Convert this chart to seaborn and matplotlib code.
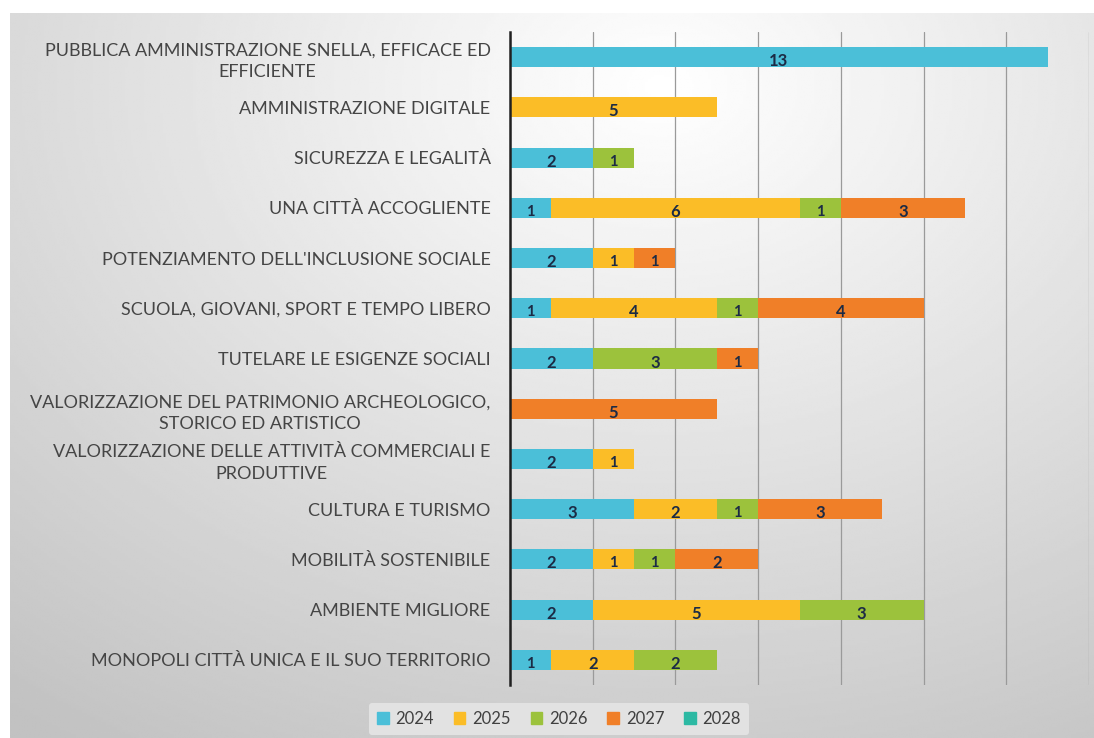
import numpy as np
import pandas as pd
import matplotlib
matplotlib.use("Agg")
import matplotlib.pyplot as plt
import matplotlib.patches as mpatches
import seaborn as sns

categories = [
    "PUBBLICA AMMINISTRAZIONE SNELLA, EFFICACE ED\nEFFICIENTE",
    "AMMINISTRAZIONE DIGITALE",
    "SICUREZZA E LEGALITÀ",
    "UNA CITTÀ ACCOGLIENTE",
    "POTENZIAMENTO DELL'INCLUSIONE SOCIALE",
    "SCUOLA, GIOVANI, SPORT E TEMPO LIBERO",
    "TUTELARE LE ESIGENZE SOCIALI",
    "VALORIZZAZIONE DEL PATRIMONIO ARCHEOLOGICO,\nSTORICO ED ARTISTICO",
    "VALORIZZAZIONE DELLE ATTIVITÀ COMMERCIALI E\nPRODUTTIVE",
    "CULTURA E TURISMO",
    "MOBILITÀ SOSTENIBILE",
    "AMBIENTE MIGLIORE",
    "MONOPOLI CITTÀ UNICA E IL SUO TERRITORIO",
]
years = ["2024", "2025", "2026", "2027", "2028"]
v2024 = [13, 0, 2, 1, 2, 1, 2, 0, 2, 3, 2, 2, 1]
v2025 = [0, 5, 0, 6, 1, 4, 0, 0, 1, 2, 1, 5, 2]
v2026 = [0, 0, 1, 1, 0, 1, 3, 0, 0, 1, 1, 3, 2]
v2027 = [0, 0, 0, 3, 1, 4, 1, 5, 0, 3, 2, 0, 0]
v2028 = [0, 0, 0, 0, 0, 0, 0, 0, 0, 0, 0, 0, 0]
colors = ["#4bbfd8", "#fbbd27", "#9cc23c", "#f07f28", "#2cb9a3"]

df = pd.DataFrame({"cat": categories, "2024": v2024, "2025": v2025,
                   "2026": v2026, "2027": v2027, "2028": v2028})
cum = df[years].cumsum(axis=1)

sns.set_theme(style="white")
plt.rcParams["font.family"] = ["Lato", "DejaVu Sans"]

fig = plt.figure(figsize=(10.94, 7.38), dpi=100)

# background gradient panel
bg = fig.add_axes([10 / 1094, 0, 1 - 10 / 1094, 1 - 13 / 738], zorder=-10)
yy, xx = np.mgrid[0:1:300j, 0:1:400j]
r = np.sqrt(((xx - 0.6) / 0.9) ** 2 + ((yy - 0.1) / 1.0) ** 2)
shade = np.clip(1.0 - 0.22 * r, 0.76, 1.0)
bg.imshow(shade, cmap="gray", vmin=0, vmax=1, aspect="auto",
          extent=[0, 1, 1, 0], interpolation="bilinear")
bg.set_axis_off()

ax = fig.add_axes([510 / 1094, 1 - 685 / 738, (1089 - 510) / 1094, (685 - 32) / 738])
ax.patch.set_alpha(0)

# stacked bars: draw cumulative totals from the last year back to the first
for i in range(len(years) - 1, -1, -1):
    sns.barplot(data=cum, x=years[i], y=df["cat"], order=categories,
                color=colors[i], width=0.4, orient="h", ax=ax,
                linewidth=0, saturation=1)

for i, yr in enumerate(years):
    for j, cat in enumerate(categories):
        val = df.loc[j, yr]
        if val > 0:
            mid = cum.loc[j, yr] - val / 2
            ax.text(mid, j + 0.08, str(val), ha="center", va="center",
                    fontsize=12 if val > 1 else 10.5, color="#1c2b45",
                    fontweight="bold")

ax.set_xlim(0, 14)
ax.set_ylim(12.5, -0.5)
ax.set_xticks(np.arange(0, 15, 2))
ax.set_xticklabels([])
ax.xaxis.grid(True, color="#9a9a9a", linewidth=0.9)
ax.set_axisbelow(True)
ax.set_xlabel("")
ax.set_ylabel("")
ax.tick_params(axis="y", length=0, pad=14, labelsize=13, labelcolor="#454545")
ax.tick_params(axis="x", length=0)
for lab in ax.get_yticklabels():
    lab.set_multialignment("center")
    lab.set_linespacing(1.45)
for s in ["top", "right", "bottom"]:
    ax.spines[s].set_visible(False)
ax.spines["left"].set_color("#202020")
ax.spines["left"].set_linewidth(1.8)

handles = [mpatches.Patch(color=c, label=y) for c, y in zip(colors, years)]
leg = fig.legend(handles=handles, loc="center", bbox_to_anchor=(559 / 1094, 1 - 719 / 738),
                 ncol=5, frameon=True, fontsize=12, handlelength=0.7, handleheight=0.7,
                 handletextpad=0.4, columnspacing=1.2, borderpad=0.5)
leg.get_frame().set_facecolor("#e2e2e2")
leg.get_frame().set_edgecolor("none")
leg.get_frame().set_alpha(1)
for t in leg.get_texts():
    t.set_color("#404040")

fig.savefig("out.png", dpi=100)
